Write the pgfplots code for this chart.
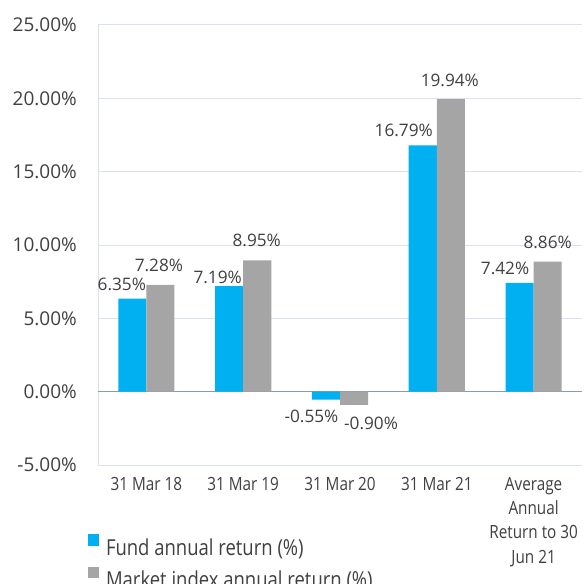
\documentclass[border=0pt]{standalone}
\usepackage{pgfplots}
\usepackage{pgfplotstable}
\pgfplotsset{compat=1.18}
\usepackage{fontspec}
\setmainfont{Open Sans}
\newfontfamily\narrowfont{Open Sans}[FakeStretch=0.84]
\definecolor{fundc}{HTML}{00B0F0}
\definecolor{mktc}{HTML}{A5A5A5}
\definecolor{gridc}{HTML}{D9E1F2}
\definecolor{zeroc}{HTML}{8C9BB5}
\definecolor{textc}{HTML}{404040}

% x: category, y: value, lx/ly: where its value label sits
\pgfplotstableread{
x y lx ly
0 6.35 -0.2535 6.930
1 7.19 0.7361 7.395
2 -0.55 1.7051 -2.084
3 16.79 2.6586 17.431
4 7.42 3.7051 7.965
}\fund
\pgfplotstableread{
x y lx ly
0 7.28 0.1295 8.166
1 8.95 1.1398 9.884
2 -0.90 2.3207 -2.605
3 19.94 3.1347 20.826
4 8.86 4.1450 9.774
}\mkt

\begin{document}
\begin{tikzpicture}
\begin{axis}[
  name=ax,
  at={(0,0)}, anchor=south west,
  scale only axis,
  width=484pt, height=440pt,
  xmin=-0.5, xmax=4.5,
  ymin=-5, ymax=25,
  ytick={-5,0,5,10,15,20,25},
  xtick={0,1,2,3,4},
  xticklabels={31 Mar 18,31 Mar 19,31 Mar 20,31 Mar 21,{Average\\Annual\\Return to 30\\Jun 21}},
  /pgf/number format/assume math mode=true,
  yticklabel={\pgfmathprintnumber[fixed,fixed zerofill,precision=2]{\tick}\%},
  yticklabel style={font=\fontsize{19}{23}\selectfont, text=textc, inner sep=0pt, anchor=east, xshift=-21pt},
  xticklabel style={font=\narrowfont\fontsize{18.2}{24.3}\selectfont, text=textc, inner sep=0pt, anchor=north, yshift=-12pt, align=center},
  major tick length=0pt,
  axis lines*=left,
  axis line style={-},
  x axis line style={draw=none},
  y axis line style={draw=gridc, line width=1pt},
  ymajorgrids,
  major grid style={draw=gridc, line width=1pt},
  extra y ticks={0},
  extra y tick labels={},
  extra y tick style={grid=major, major grid style={draw=zeroc, line width=1pt}},
  clip=false,
  legend style={at={(0,0)}, anchor=north west, xshift=-10pt, yshift=-69.3pt,
    draw=none, fill=none, inner sep=0pt, outer sep=0pt,
    font=\narrowfont\fontsize{22}{26}\selectfont, text=textc,
    nodes={inner sep=0pt},
    row sep=10pt,
    /tikz/every odd column/.append style={column sep=7pt}},
  legend cell align=left,
  legend image code/.code={\fill[#1] (0pt,1.7pt) rectangle (11pt,13.3pt);},
  lab/.style={only marks, mark=none, forget plot, point meta=explicit,
    nodes near coords={\pgfmathprintnumber[fixed,fixed zerofill,precision=2]{\pgfplotspointmeta}\%},
    every node near coord/.style={font=\fontsize{17.2}{20}\selectfont, text=textc, inner sep=0pt, anchor=base}},
]
\addplot[ybar, fill=fundc, draw=none, bar width=0.29, bar shift=-0.145]
  table[x=x,y=y]{\fund};
\addlegendentry{Fund annual return (\%)}
\addplot[ybar, fill=mktc, draw=none, bar width=0.29, bar shift=0.145]
  table[x=x,y=y]{\mkt};
\addlegendentry{Market index annual return (\%)}
\addplot[lab] table[x=lx,y=ly,meta=y]{\fund};
\addplot[lab] table[x=lx,y=ly,meta=y]{\mkt};
\end{axis}
\pgfresetboundingbox
\useasboundingbox ([xshift=-98pt,yshift=-118pt]ax.south west) rectangle ([xshift=2pt,yshift=25pt]ax.north east);
\end{tikzpicture}
\end{document}
